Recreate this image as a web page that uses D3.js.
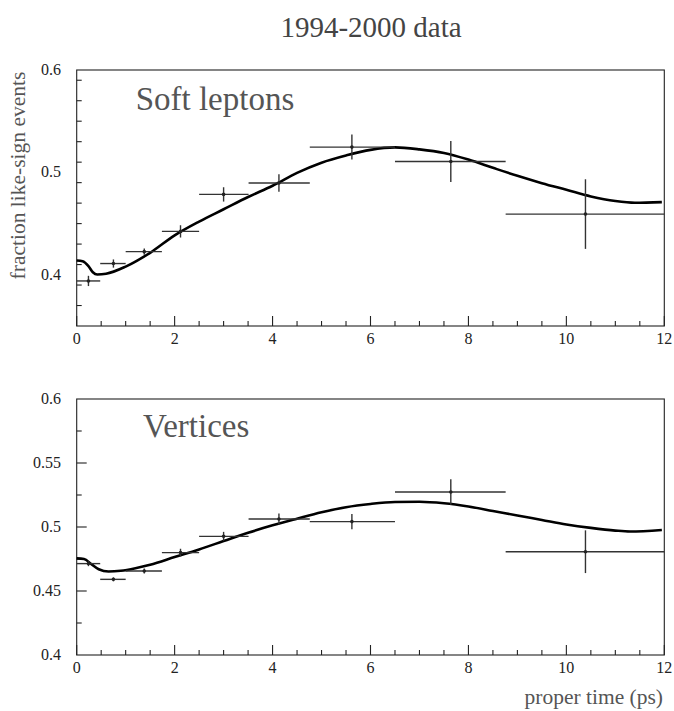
<!DOCTYPE html>
<html>
<head>
<meta charset="utf-8">
<script src="https://cdn.jsdelivr.net/npm/d3@7"></script>
<style>
  body { margin: 0; background: #fff; }
  text { font-family: "Liberation Serif", "Times New Roman", Times, "DejaVu Serif", serif; }
</style>
</head>
<body>
<div id="chart"></div>
<script>
// mesures : temps propre (ps), fraction, limites du bin, erreur
const binLo = [0, 0.48, 1.0, 1.74, 2.5, 3.51, 4.76, 6.5, 8.76];
const binHi = [0.48, 1.0, 1.74, 2.5, 3.51, 4.76, 6.5, 8.76, 12];
const binT = [0.24, 0.75, 1.38, 2.12, 3.0, 4.13, 5.62, 7.64, 10.39];

const softVal = [0.394, 0.411, 0.4226, 0.4424, 0.4785, 0.4896, 0.5247, 0.5107, 0.4593];
const softErr = [0.005, 0.004, 0.003, 0.006, 0.007, 0.0086, 0.0122, 0.020, 0.034];

const vtxVal = [0.4714, 0.4591, 0.4656, 0.480, 0.4927, 0.5063, 0.5042, 0.5273, 0.4807];
const vtxErr = [0.002, 0.0015, 0.002, 0.003, 0.0035, 0.0043, 0.006, 0.010, 0.0167];

// courbes d'ajustement
const fitT = [0, 0.12, 0.24, 0.33, 0.42, 0.6, 1.0, 1.5, 2.0, 2.5, 3.0, 3.5, 4.0, 4.5, 5.0, 5.5, 6.0, 6.5,
              7.0, 7.5, 8.0, 8.5, 9.0, 9.5, 10.0, 10.5, 11.0, 11.4, 11.95];
const softFit = [0.414, 0.4132, 0.4085, 0.4025, 0.4003, 0.401, 0.408, 0.4215, 0.4385, 0.452, 0.464, 0.476,
                 0.487, 0.4995, 0.5095, 0.5165, 0.522, 0.5244, 0.5225, 0.519, 0.5125, 0.5045, 0.4967,
                 0.4895, 0.483, 0.4765, 0.472, 0.4703, 0.471];
const vtxFitT = [0, 0.15, 0.3, 0.45, 0.65, 0.9, 1.2, 1.5, 2.0, 2.5, 3.0, 3.5, 4.0, 4.5, 5.0, 5.5, 6.0,
                 6.5, 7.0, 7.5, 8.0, 8.5, 9.0, 9.5, 10.0, 10.5, 11.0, 11.3, 11.95];
const vtxFit = [0.4755, 0.475, 0.471, 0.467, 0.4652, 0.4658, 0.4678, 0.4705, 0.4765, 0.4825, 0.489,
                0.4955, 0.5013, 0.5065, 0.5115, 0.5155, 0.518, 0.5195, 0.5197, 0.5185, 0.516, 0.5125,
                0.509, 0.5055, 0.502, 0.4993, 0.4972, 0.4965, 0.4977];

const xTicks = [0, 2, 4, 6, 8, 10, 12];
const softTicks = [0.4, 0.5, 0.6];
const vtxTicks = [0.4, 0.45, 0.5, 0.55, 0.6];

const width = 674, height = 711;
const left = 76.7, right = 664.3;

const svg = d3.select("#chart").append("svg")
    .attr("width", width).attr("height", height);

const x = d3.scaleLinear().domain([0, 12]).range([left, right]);

svg.append("text")
    .attr("x", 371).attr("y", 36.5)
    .attr("text-anchor", "middle")
    .attr("font-size", 29)
    .attr("fill", "#444")
    .text("1994-2000 data");

svg.append("text")
    .attr("transform", "translate(25,175.5) rotate(-90)")
    .attr("text-anchor", "middle")
    .attr("font-size", 21.5)
    .attr("fill", "#555")
    .text("fraction like-sign events");

svg.append("text")
    .attr("x", 663).attr("y", 704)
    .attr("text-anchor", "end")
    .attr("font-size", 21.5)
    .attr("fill", "#555")
    .text("proper time (ps)");

function drawPanel(top, bottom, yDomain, ticks, minorStep, vals, errs, fT, fV, label, labelX) {
    const y = d3.scaleLinear().domain(yDomain).range([bottom, top]);
    const g = svg.append("g");

    // cadre
    g.append("rect")
        .attr("x", left).attr("y", top)
        .attr("width", right - left).attr("height", bottom - top)
        .attr("fill", "none").attr("stroke", "#222").attr("stroke-width", 1.1);

    // graduations x (vers l'intérieur)
    const xMinor = d3.range(0, 12.001, 0.5);
    g.selectAll(".xt").data(xMinor).enter().append("line")
        .attr("x1", d => x(d)).attr("x2", d => x(d))
        .attr("y1", bottom)
        .attr("y2", d => bottom - (d % 2 === 0 ? 10 : 5))
        .attr("stroke", "#222").attr("stroke-width", 1.1);

    g.selectAll(".xl").data(xTicks).enter().append("text")
        .attr("x", d => x(d)).attr("y", bottom + 18)
        .attr("text-anchor", "middle")
        .attr("font-size", 16)
        .attr("fill", "#222")
        .text(d => d);

    // graduations y
    const n = Math.round((yDomain[1] - yDomain[0]) / minorStep);
    const yMinor = d3.range(1, n).map(i => yDomain[0] + i * minorStep);
    g.selectAll(".yt").data(yMinor).enter().append("line")
        .attr("x1", left)
        .attr("x2", d => left + (ticks.some(t => Math.abs(t - d) < 1e-6) ? 10 : 5))
        .attr("y1", d => y(d)).attr("y2", d => y(d))
        .attr("stroke", "#222").attr("stroke-width", 1.1);

    g.selectAll(".yl").data(ticks).enter().append("text")
        .attr("x", 61).attr("y", d => y(d) + 5)
        .attr("text-anchor", "end")
        .attr("font-size", 16)
        .attr("fill", "#222")
        .text(d => d);

    // courbe d'ajustement
    const line = d3.line()
        .x((d, i) => x(fT[i]))
        .y(d => y(d))
        .curve(d3.curveMonotoneX);
    g.append("path")
        .datum(fV)
        .attr("d", line)
        .attr("fill", "none")
        .attr("stroke", "#000")
        .attr("stroke-width", 2.6);

    // points avec barres d'erreur
    vals.forEach((v, i) => {
        g.append("line")
            .attr("x1", x(binLo[i])).attr("x2", x(binHi[i]))
            .attr("y1", y(v)).attr("y2", y(v))
            .attr("stroke", "#333").attr("stroke-width", 1.4);
        g.append("line")
            .attr("x1", x(binT[i])).attr("x2", x(binT[i]))
            .attr("y1", y(v - errs[i])).attr("y2", y(v + errs[i]))
            .attr("stroke", "#333").attr("stroke-width", 1.4);
        g.append("circle")
            .attr("cx", x(binT[i])).attr("cy", y(v))
            .attr("r", 1.8).attr("fill", "#222");
    });

    g.append("text")
        .attr("x", labelX).attr("y", top + (label === "Vertices" ? 38 : 39.5))
        .attr("font-size", 33)
        .attr("fill", "#555")
        .text(label);
}

drawPanel(70, 326, [0.35, 0.6], softTicks, 0.02, softVal, softErr, fitT, softFit, "Soft leptons", 135.7);
drawPanel(399, 655, [0.4, 0.6], vtxTicks, 0.025, vtxVal, vtxErr, vtxFitT, vtxFit, "Vertices", 143);
</script>
</body>
</html>
